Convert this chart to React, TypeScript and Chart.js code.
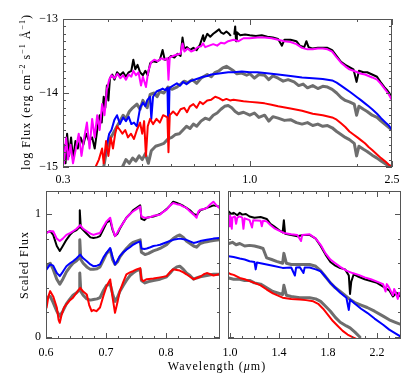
import React, { useEffect, useRef } from 'react';
import { Chart, registerables } from 'chart.js';

Chart.register(...registerables);

const FONT = "'Liberation Serif', 'DejaVu Serif', serif";

type Pair = [number, number | null];

// ---------- top panel: [wavelength (um), log flux] ----------
const topBlack: Pair[] = [[0.302,-14.7],[0.305,-14.95],[0.308,-14.55],[0.312,-14.85],[0.316,-14.6],[0.32,-14.9],[0.325,-14.65],[0.33,-14.75],[0.336,-14.6],[0.342,-14.7],[0.348,-14.55],[0.355,-14.65],[0.362,-14.6],[0.368,-14.75],[0.374,-14.5],[0.38,-14.3],[0.385,-14.4],[0.39,-14.05],[0.394,-14.2],[0.398,-13.9],[0.402,-14.1],[0.406,-13.8],[0.412,-13.75],[0.418,-13.82],[0.425,-13.72],[0.433,-13.76],[0.442,-13.72],[0.45,-13.78],[0.458,-13.72],[0.466,-13.7],[0.472,-13.55],[0.478,-13.68],[0.485,-13.62],[0.493,-13.72],[0.502,-13.76],[0.51,-13.7],[0.518,-13.76],[0.526,-13.6],[0.536,-13.57],[0.548,-13.58],[0.56,-13.55],[0.57,-13.42],[0.578,-13.55],[0.59,-13.54],[0.602,-13.5],[0.615,-13.52],[0.628,-13.47],[0.64,-13.5],[0.648,-13.25],[0.655,-13.4],[0.667,-13.38],[0.68,-13.42],[0.695,-13.39],[0.71,-13.42],[0.725,-13.35],[0.74,-13.22],[0.745,-13.3],[0.76,-13.2],[0.775,-13.24],[0.79,-13.2],[0.805,-13.17],[0.82,-13.14],[0.83,-13.18],[0.845,-13.2],[0.86,-13.17],[0.875,-13.2],[0.882,-13.22],[0.893,null],[0.905,-13.2],[0.91,-13.1],[0.915,-13.3],[0.92,-13.18],[0.94,-13.22],[0.97,-13.21],[1.0,-13.22],[1.04,-13.23],[1.08,-13.22],[1.12,-13.24],[1.16,-13.25],[1.2,-13.27],[1.23,-13.36],[1.25,-13.28],[1.3,-13.28],[1.35,-13.3],[1.38,-13.36],[1.42,-13.38],[1.44,-13.3],[1.46,-13.38],[1.5,-13.4],[1.55,-13.39],[1.6,-13.39],[1.65,-13.39],[1.7,-13.42],[1.75,-13.5],[1.8,-13.58],[1.85,-13.62],[1.9,-13.65],[1.95,-13.68],[1.99,-13.85],[2.02,-13.7],[2.08,-13.72],[2.13,-13.72],[2.2,-13.75],[2.27,-13.78],[2.32,-13.85],[2.38,-13.92],[2.43,-13.97],[2.5,-14.05]];

const topMagenta: Pair[] = [[0.302,-14.95],[0.306,-14.6],[0.31,-14.9],[0.315,-14.7],[0.32,-14.95],[0.326,-14.75],[0.332,-14.55],[0.338,-14.85],[0.344,-14.6],[0.35,-14.4],[0.356,-14.75],[0.362,-14.35],[0.368,-14.6],[0.374,-14.3],[0.38,-14.5],[0.386,-14.15],[0.392,-14.3],[0.398,-13.95],[0.404,-13.82],[0.41,-13.76],[0.418,-13.8],[0.426,-13.74],[0.434,-13.8],[0.442,-13.76],[0.45,-13.82],[0.458,-13.75],[0.466,-13.78],[0.472,-13.7],[0.48,-13.76],[0.488,-13.72],[0.496,-13.9],[0.502,-13.78],[0.512,-13.92],[0.52,-13.7],[0.53,-13.58],[0.54,-13.55],[0.552,-13.57],[0.565,-13.53],[0.575,-13.55],[0.588,-13.53],[0.592,-13.82],[0.597,-13.52],[0.61,-13.5],[0.625,-13.48],[0.64,-13.47],[0.648,-13.33],[0.656,-13.44],[0.67,-13.4],[0.685,-13.44],[0.7,-13.42],[0.715,-13.38],[0.73,-13.37],[0.74,-13.33],[0.75,-13.38],[0.77,-13.36],[0.79,-13.34],[0.81,-13.36],[0.83,-13.32],[0.85,-13.33],[0.87,-13.3],[0.9,-13.28],[0.93,-13.3],[0.96,-13.26],[1.0,-13.26],[1.05,-13.25],[1.1,-13.25],[1.15,-13.26],[1.2,-13.28],[1.25,-13.3],[1.3,-13.31],[1.35,-13.34],[1.4,-13.39],[1.45,-13.41],[1.5,-13.41],[1.55,-13.4],[1.6,-13.4],[1.65,-13.41],[1.7,-13.44],[1.75,-13.52],[1.8,-13.59],[1.85,-13.64],[1.9,-13.68],[1.95,-13.7],[2.0,-13.72],[2.05,-13.74],[2.1,-13.75],[2.15,-13.77],[2.2,-13.79],[2.27,-13.82],[2.33,-13.88],[2.4,-13.96],[2.45,-14.02],[2.5,-14.1]];

const topGrayUpper: Pair[] = [[0.39,-15.0],[0.398,-14.75],[0.406,-14.62],[0.414,-14.55],[0.425,-14.45],[0.433,-14.38],[0.442,-14.3],[0.45,-14.35],[0.46,-14.25],[0.47,-14.2],[0.483,-14.15],[0.493,-14.22],[0.502,-14.1],[0.516,-14.2],[0.526,-14.02],[0.54,-14.0],[0.55,-14.05],[0.56,-13.98],[0.575,-14.0],[0.59,-13.92],[0.605,-13.95],[0.625,-13.92],[0.64,-13.88],[0.655,-13.84],[0.67,-13.86],[0.69,-13.82],[0.71,-13.87],[0.73,-13.8],[0.76,-13.75],[0.78,-13.78],[0.8,-13.72],[0.82,-13.7],[0.84,-13.66],[0.86,-13.64],[0.88,-13.67],[0.9,-13.7],[0.92,-13.74],[0.95,-13.73],[0.98,-13.76],[1.0,-13.74],[1.03,-13.8],[1.06,-13.75],[1.1,-13.76],[1.13,-13.82],[1.16,-13.77],[1.2,-13.8],[1.24,-13.84],[1.28,-13.82],[1.33,-13.85],[1.37,-13.9],[1.41,-13.88],[1.45,-13.93],[1.5,-13.9],[1.55,-13.94],[1.6,-13.91],[1.65,-13.92],[1.7,-13.95],[1.75,-14.0],[1.8,-14.06],[1.85,-14.1],[1.9,-14.12],[1.96,-14.15],[1.99,-14.3],[2.02,-14.18],[2.08,-14.22],[2.13,-14.25],[2.2,-14.3],[2.27,-14.33],[2.33,-14.38],[2.4,-14.43],[2.5,-14.5]];

const topBlue: Pair[] = [[0.392,-14.85],[0.398,-14.7],[0.404,-14.55],[0.41,-14.5],[0.418,-14.36],[0.425,-14.3],[0.433,-14.42],[0.442,-14.33],[0.45,-14.38],[0.458,-14.32],[0.466,-14.42],[0.474,-14.4],[0.483,-14.45],[0.493,-14.2],[0.502,-14.13],[0.51,-14.18],[0.516,-14.1],[0.526,-14.05],[0.53,-14.35],[0.536,-14.05],[0.548,-13.98],[0.56,-13.96],[0.57,-13.94],[0.58,-13.96],[0.588,-13.93],[0.592,-14.6],[0.596,-13.93],[0.61,-13.9],[0.625,-13.87],[0.638,-13.9],[0.65,-13.85],[0.665,-13.88],[0.68,-13.84],[0.7,-13.82],[0.72,-13.8],[0.74,-13.78],[0.76,-13.77],[0.78,-13.75],[0.81,-13.74],[0.84,-13.73],[0.87,-13.72],[0.9,-13.72],[0.95,-13.71],[1.0,-13.72],[1.05,-13.72],[1.1,-13.73],[1.15,-13.74],[1.2,-13.75],[1.3,-13.77],[1.4,-13.79],[1.5,-13.8],[1.6,-13.81],[1.7,-13.83],[1.75,-13.86],[1.8,-13.9],[1.85,-13.94],[1.9,-13.98],[1.95,-14.02],[2.0,-14.06],[2.05,-14.1],[2.1,-14.14],[2.15,-14.18],[2.2,-14.22],[2.27,-14.28],[2.33,-14.34],[2.4,-14.4],[2.45,-14.44],[2.5,-14.5]];

const topGrayLower: Pair[] = [[0.44,-15.0],[0.45,-14.9],[0.46,-14.95],[0.47,-14.88],[0.48,-14.92],[0.49,-14.85],[0.5,-14.9],[0.51,-14.82],[0.52,-14.95],[0.53,-14.78],[0.545,-14.72],[0.56,-14.7],[0.575,-14.68],[0.59,-14.62],[0.605,-14.6],[0.62,-14.56],[0.635,-14.55],[0.65,-14.5],[0.665,-14.45],[0.68,-14.48],[0.695,-14.42],[0.71,-14.45],[0.73,-14.38],[0.75,-14.34],[0.77,-14.36],[0.79,-14.3],[0.81,-14.27],[0.83,-14.22],[0.85,-14.18],[0.87,-14.17],[0.89,-14.2],[0.91,-14.25],[0.93,-14.28],[0.96,-14.26],[1.0,-14.3],[1.03,-14.27],[1.06,-14.33],[1.1,-14.3],[1.13,-14.38],[1.16,-14.32],[1.2,-14.34],[1.25,-14.37],[1.3,-14.36],[1.35,-14.4],[1.4,-14.42],[1.45,-14.4],[1.5,-14.44],[1.55,-14.42],[1.6,-14.45],[1.65,-14.44],[1.7,-14.47],[1.75,-14.52],[1.8,-14.56],[1.85,-14.6],[1.9,-14.63],[1.96,-14.68],[1.99,-14.85],[2.02,-14.72],[2.08,-14.76],[2.13,-14.79],[2.2,-14.84],[2.27,-14.88],[2.33,-14.92],[2.4,-14.96],[2.5,-15.0]];

const topRed: Pair[] = [[0.37,-15.0],[0.378,-14.9],[0.386,-14.75],[0.39,-14.95],[0.396,-14.65],[0.402,-14.85],[0.408,-14.6],[0.414,-14.75],[0.42,-14.55],[0.425,-14.45],[0.433,-14.5],[0.44,-14.55],[0.448,-14.5],[0.456,-14.6],[0.465,-14.55],[0.474,-14.62],[0.483,-14.5],[0.493,-14.4],[0.5,-14.55],[0.506,-14.38],[0.512,-14.85],[0.518,-14.45],[0.526,-14.35],[0.536,-14.42],[0.548,-14.35],[0.56,-14.4],[0.572,-14.3],[0.583,-14.32],[0.588,-14.33],[0.592,-14.8],[0.597,-14.3],[0.61,-14.25],[0.625,-14.3],[0.64,-14.22],[0.655,-14.2],[0.667,-14.26],[0.68,-14.18],[0.695,-14.15],[0.71,-14.2],[0.725,-14.12],[0.74,-14.15],[0.76,-14.1],[0.78,-14.09],[0.8,-14.05],[0.82,-14.07],[0.84,-14.1],[0.86,-14.08],[0.88,-14.1],[0.9,-14.09],[0.93,-14.1],[0.96,-14.11],[1.0,-14.12],[1.05,-14.13],[1.1,-14.14],[1.15,-14.16],[1.2,-14.18],[1.3,-14.21],[1.4,-14.24],[1.5,-14.28],[1.6,-14.3],[1.7,-14.33],[1.75,-14.36],[1.8,-14.41],[1.85,-14.46],[1.9,-14.52],[1.95,-14.56],[2.0,-14.6],[2.05,-14.64],[2.1,-14.68],[2.15,-14.73],[2.2,-14.77],[2.27,-14.83],[2.33,-14.88],[2.4,-14.93],[2.45,-14.97],[2.5,-15.0]];

// ---------- bottom-left panel: [wavelength, scaled flux] ----------
const blBlack: Pair[] = [[0.601,0.85],[0.607,0.86],[0.612,0.83],[0.618,0.74],[0.623,0.70],[0.628,0.74],[0.634,0.79],[0.64,0.83],[0.645,0.855],[0.651,0.87],[0.655,0.89],[0.6563,1.03],[0.658,0.89],[0.662,0.87],[0.668,0.84],[0.674,0.81],[0.679,0.805],[0.685,0.81],[0.69,0.82],[0.696,0.88],[0.701,0.93],[0.707,0.95],[0.711,0.87],[0.715,0.82],[0.719,0.84],[0.723,0.88],[0.729,0.93],[0.734,0.97],[0.74,1.0],[0.745,1.03],[0.751,1.05],[0.757,1.07],[0.759,0.96],[0.764,0.95],[0.768,0.97],[0.774,0.975],[0.779,0.98],[0.785,0.99],[0.79,1.0],[0.796,1.02],[0.801,1.04],[0.807,1.07],[0.812,1.10],[0.818,1.09],[0.823,1.08],[0.829,1.065],[0.834,1.05],[0.84,1.03],[0.846,1.0],[0.851,0.99],[0.857,1.03],[0.863,1.04],[0.868,1.05],[0.874,1.06],[0.879,1.07],[0.889,1.06]];

const blMagenta: Pair[] = [[0.601,0.846],[0.607,0.86],[0.612,0.86],[0.618,0.80],[0.623,0.78],[0.628,0.80],[0.634,0.83],[0.64,0.845],[0.645,0.86],[0.651,0.88],[0.657,0.91],[0.662,0.88],[0.668,0.86],[0.674,0.84],[0.679,0.83],[0.685,0.84],[0.69,0.846],[0.696,0.90],[0.701,0.94],[0.707,0.97],[0.711,0.88],[0.715,0.82],[0.719,0.85],[0.723,0.886],[0.729,0.93],[0.734,0.97],[0.74,1.0],[0.745,1.02],[0.751,1.04],[0.757,1.06],[0.759,0.98],[0.764,0.97],[0.768,0.97],[0.774,0.975],[0.779,0.985],[0.785,0.99],[0.79,0.995],[0.796,1.02],[0.801,1.035],[0.807,1.07],[0.812,1.09],[0.818,1.08],[0.823,1.076],[0.829,1.06],[0.834,1.05],[0.84,1.02],[0.846,0.995],[0.851,0.97],[0.854,1.02],[0.857,1.035],[0.863,1.04],[0.868,1.05],[0.874,1.08],[0.879,1.10],[0.884,1.07],[0.889,1.05]];

const blGrayUpper: Pair[] = [[0.601,0.58],[0.607,0.6],[0.612,0.55],[0.618,0.47],[0.623,0.43],[0.628,0.47],[0.634,0.53],[0.64,0.57],[0.645,0.6],[0.651,0.62],[0.655,0.64],[0.6563,0.79],[0.658,0.63],[0.662,0.6],[0.668,0.57],[0.674,0.55],[0.679,0.55],[0.685,0.555],[0.69,0.57],[0.696,0.63],[0.701,0.68],[0.707,0.71],[0.711,0.63],[0.715,0.59],[0.719,0.61],[0.723,0.65],[0.729,0.69],[0.734,0.72],[0.74,0.75],[0.745,0.77],[0.751,0.78],[0.757,0.79],[0.759,0.69],[0.765,0.67],[0.771,0.68],[0.779,0.70],[0.785,0.71],[0.79,0.72],[0.801,0.75],[0.807,0.78],[0.812,0.80],[0.818,0.82],[0.823,0.83],[0.829,0.81],[0.834,0.78],[0.84,0.76],[0.846,0.74],[0.851,0.73],[0.857,0.76],[0.863,0.77],[0.868,0.775],[0.874,0.78],[0.879,0.785],[0.889,0.79]];

const blBlue: Pair[] = [[0.601,0.55],[0.607,0.59],[0.612,0.58],[0.618,0.52],[0.623,0.495],[0.628,0.53],[0.634,0.576],[0.64,0.60],[0.645,0.616],[0.651,0.64],[0.657,0.67],[0.662,0.64],[0.668,0.616],[0.674,0.59],[0.679,0.576],[0.685,0.58],[0.69,0.59],[0.696,0.65],[0.701,0.684],[0.707,0.724],[0.711,0.65],[0.715,0.59],[0.719,0.62],[0.723,0.657],[0.729,0.69],[0.734,0.71],[0.74,0.73],[0.745,0.75],[0.751,0.765],[0.757,0.778],[0.759,0.72],[0.764,0.715],[0.768,0.72],[0.774,0.73],[0.779,0.74],[0.785,0.745],[0.79,0.75],[0.801,0.77],[0.812,0.79],[0.823,0.80],[0.834,0.79],[0.846,0.765],[0.851,0.77],[0.857,0.78],[0.868,0.79],[0.879,0.80],[0.889,0.805]];

const blGrayLower: Pair[] = [[0.601,0.32],[0.607,0.33],[0.612,0.28],[0.618,0.21],[0.623,0.17],[0.628,0.21],[0.634,0.27],[0.64,0.31],[0.645,0.34],[0.651,0.36],[0.655,0.38],[0.6563,0.52],[0.658,0.37],[0.662,0.34],[0.668,0.31],[0.674,0.30],[0.679,0.305],[0.685,0.31],[0.69,0.32],[0.696,0.38],[0.701,0.42],[0.707,0.43],[0.711,0.35],[0.715,0.29],[0.719,0.32],[0.723,0.37],[0.729,0.42],[0.734,0.46],[0.74,0.50],[0.745,0.52],[0.751,0.54],[0.757,0.55],[0.759,0.46],[0.765,0.44],[0.771,0.45],[0.779,0.46],[0.79,0.47],[0.801,0.49],[0.807,0.52],[0.812,0.55],[0.818,0.57],[0.823,0.576],[0.829,0.55],[0.834,0.52],[0.84,0.50],[0.846,0.47],[0.851,0.48],[0.857,0.49],[0.868,0.50],[0.879,0.51],[0.889,0.51]];

const blRed: Pair[] = [[0.601,0.24],[0.604,0.33],[0.607,0.373],[0.612,0.33],[0.618,0.24],[0.621,0.14],[0.623,0.116],[0.626,0.18],[0.63,0.24],[0.634,0.265],[0.64,0.30],[0.645,0.32],[0.651,0.36],[0.657,0.40],[0.662,0.37],[0.668,0.346],[0.672,0.26],[0.676,0.21],[0.679,0.22],[0.684,0.21],[0.69,0.24],[0.696,0.34],[0.701,0.414],[0.707,0.468],[0.711,0.32],[0.715,0.197],[0.719,0.28],[0.723,0.373],[0.729,0.45],[0.734,0.51],[0.74,0.525],[0.745,0.535],[0.751,0.55],[0.757,0.56],[0.759,0.47],[0.762,0.454],[0.768,0.47],[0.779,0.475],[0.79,0.485],[0.801,0.495],[0.807,0.53],[0.812,0.55],[0.818,0.545],[0.823,0.54],[0.829,0.525],[0.834,0.51],[0.84,0.49],[0.846,0.47],[0.851,0.48],[0.857,0.49],[0.863,0.51],[0.868,0.52],[0.874,0.51],[0.879,0.50],[0.889,0.51]];

// ---------- bottom-right panel: [wavelength, scaled flux] ----------
const brBlack: Pair[] = [[0.99,1.02],[1.01,1.0],[1.03,1.01],[1.06,0.99],[1.08,1.01],[1.1,0.995],[1.13,1.0],[1.16,0.98],[1.2,0.97],[1.25,0.975],[1.3,0.96],[1.33,0.92],[1.36,0.9],[1.4,0.87],[1.43,0.85],[1.44,0.95],[1.45,0.84],[1.5,0.83],[1.55,0.82],[1.6,0.83],[1.65,0.83],[1.7,0.8],[1.74,0.74],[1.78,0.67],[1.82,0.61],[1.86,0.58],[1.9,0.56],[1.94,0.55],[1.97,0.5],[1.98,0.35],[1.99,0.45],[2.01,0.51],[2.05,0.49],[2.1,0.47],[2.15,0.455],[2.2,0.44],[2.25,0.41],[2.3,0.38],[2.33,0.33],[2.36,0.36],[2.4,0.32]];

const brMagenta: Pair[] = [[0.99,0.97],[0.995,0.90],[1.0,0.99],[1.01,0.96],[1.015,0.88],[1.02,0.97],[1.04,0.98],[1.05,0.92],[1.06,0.97],[1.08,0.98],[1.1,0.97],[1.11,0.88],[1.12,0.965],[1.16,0.95],[1.18,0.89],[1.19,0.95],[1.25,0.945],[1.26,0.90],[1.27,0.945],[1.3,0.94],[1.33,0.91],[1.36,0.886],[1.4,0.865],[1.44,0.846],[1.5,0.835],[1.55,0.83],[1.58,0.78],[1.59,0.83],[1.65,0.835],[1.7,0.8],[1.74,0.75],[1.78,0.68],[1.82,0.63],[1.86,0.6],[1.9,0.57],[1.95,0.54],[2.0,0.52],[2.05,0.505],[2.1,0.485],[2.15,0.47],[2.2,0.45],[2.25,0.43],[2.27,0.37],[2.28,0.43],[2.3,0.4],[2.33,0.34],[2.34,0.39],[2.35,0.37],[2.37,0.31],[2.38,0.36],[2.4,0.346]];

const brGrayUpper: Pair[] = [[0.99,0.76],[1.02,0.77],[1.05,0.75],[1.08,0.76],[1.12,0.74],[1.16,0.745],[1.2,0.74],[1.24,0.73],[1.27,0.72],[1.3,0.643],[1.34,0.63],[1.38,0.615],[1.43,0.60],[1.44,0.68],[1.46,0.6],[1.5,0.59],[1.55,0.59],[1.6,0.59],[1.65,0.59],[1.7,0.575],[1.74,0.54],[1.78,0.49],[1.82,0.44],[1.86,0.40],[1.9,0.37],[1.95,0.33],[1.98,0.305],[2.02,0.28],[2.07,0.26],[2.12,0.24],[2.18,0.21],[2.25,0.17],[2.3,0.14],[2.35,0.12],[2.4,0.10]];

const brBlue: Pair[] = [[0.99,0.657],[1.03,0.65],[1.08,0.638],[1.12,0.63],[1.16,0.616],[1.2,0.61],[1.21,0.55],[1.22,0.605],[1.25,0.6],[1.3,0.59],[1.35,0.58],[1.43,0.562],[1.5,0.565],[1.53,0.50],[1.54,0.565],[1.57,0.568],[1.6,0.52],[1.61,0.566],[1.65,0.565],[1.7,0.55],[1.74,0.535],[1.78,0.49],[1.82,0.44],[1.86,0.40],[1.9,0.36],[1.95,0.32],[1.97,0.22],[1.98,0.305],[2.02,0.27],[2.07,0.23],[2.12,0.197],[2.18,0.15],[2.25,0.10],[2.3,0.06],[2.35,0.03],[2.4,0.0]];

const brGrayLower: Pair[] = [[0.99,0.48],[1.03,0.47],[1.08,0.47],[1.12,0.46],[1.16,0.46],[1.2,0.44],[1.25,0.43],[1.3,0.40],[1.35,0.37],[1.43,0.346],[1.44,0.42],[1.46,0.34],[1.5,0.33],[1.57,0.32],[1.65,0.32],[1.7,0.31],[1.74,0.29],[1.78,0.25],[1.82,0.21],[1.86,0.16],[1.9,0.12],[1.95,0.09],[1.98,0.075],[2.02,0.04],[2.06,0.0]];

const brRed: Pair[] = [[0.99,0.52],[1.01,0.51],[1.03,0.505],[1.08,0.48],[1.12,0.47],[1.16,0.454],[1.2,0.44],[1.25,0.42],[1.3,0.386],[1.35,0.355],[1.43,0.32],[1.5,0.31],[1.57,0.305],[1.62,0.30],[1.68,0.29],[1.72,0.27],[1.76,0.23],[1.8,0.18],[1.84,0.13],[1.88,0.09],[1.92,0.05],[1.96,0.02],[2.0,0.0],[2.04,-0.02]];

// ---------- axis ticks ----------
const topXLabels = [0.3, 1.0, 2.5];
const topXMinor = [0.4, 0.5, 0.6, 0.7, 0.8, 0.9, 2.0];
const topYLabels = [-15, -14, -13];
const topYMinor = [-14.9,-14.8,-14.7,-14.6,-14.5,-14.4,-14.3,-14.2,-14.1,-13.9,-13.8,-13.7,-13.6,-13.5,-13.4,-13.3,-13.2,-13.1];
const blXLabels = [0.6, 0.7, 0.8];
const blXMinor = [0.62,0.64,0.66,0.68,0.72,0.74,0.76,0.78,0.82,0.84,0.86,0.88];
const brXLabels = [1.0, 1.4, 1.8, 2.2];
const brXMinor = [1.1,1.2,1.3,1.5,1.6,1.7,1.9,2.0,2.1,2.3];
const botYLabels = [0, 1];
const botYMinor = [0.2, 0.4, 0.6, 0.8];

const GRAY = '#6e6e6e';
const BLACK = '#000000';
const MAGENTA = '#ff00ff';
const BLUE = '#0000ff';
const RED = '#ff0000';

const frameTicks = {
  id: 'frameTicks',
  afterDatasetsDraw(chart: any, _args: any, opts: any) {
    const { ctx, chartArea: a, scales } = chart;
    const xs = scales.x, ys = scales.y;
    ctx.save();
    ctx.strokeStyle = '#555';
    ctx.lineWidth = 1;
    ctx.strokeRect(a.left + 0.5, a.top + 0.5, a.right - a.left - 1, a.bottom - a.top - 1);
    const vx = (vals: number[], len: number) => {
      vals.forEach((v) => {
        const p = Math.round(xs.getPixelForValue(v)) + 0.5;
        ctx.beginPath();
        ctx.moveTo(p, a.bottom); ctx.lineTo(p, a.bottom - len);
        ctx.moveTo(p, a.top); ctx.lineTo(p, a.top + len);
        ctx.stroke();
      });
    };
    const vy = (vals: number[], len: number) => {
      vals.forEach((v) => {
        const p = Math.round(ys.getPixelForValue(v)) + 0.5;
        ctx.beginPath();
        ctx.moveTo(a.left, p); ctx.lineTo(a.left + len, p);
        ctx.moveTo(a.right, p); ctx.lineTo(a.right - len, p);
        ctx.stroke();
      });
    };
    vx(opts.xMajor || [], 6); vx(opts.xMinor || [], 3);
    vy(opts.yMajor || [], 6); vy(opts.yMinor || [], 3);
    ctx.restore();
  },
};
Chart.register(frameTicks);

const toXY = (a: Pair[]) => a.map(([x, y]) => ({ x, y }));
const ds = (data: Pair[], color: string, width: number, order: number) => ({
  data: toXY(data), borderColor: color, backgroundColor: color, borderWidth: width,
  pointRadius: 0, tension: 0, fill: false, order, spanGaps: false,
  borderJoinStyle: 'round', borderCapStyle: 'round',
});

const tickFont = { family: FONT, size: 12 };

function config(p: any): any {
  const yScale = p.yShow
    ? {
        type: 'linear', min: p.yMin, max: p.yMax,
        grid: { display: false, drawTicks: false }, border: { display: false },
        afterFit: (s: any) => { s.width = p.yWidth; },
        afterBuildTicks: (s: any) => { s.ticks = p.yLabels.map((v: number) => ({ value: v })); },
        ticks: { padding: 5, color: '#000', font: tickFont, callback: p.yFmt },
      }
    : { type: 'linear', min: p.yMin, max: p.yMax, display: false };
  return {
    type: 'line',
    data: { datasets: p.datasets },
    options: {
      responsive: false, animation: false, devicePixelRatio: 1, events: [],
      layout: { padding: p.padding },
      plugins: {
        legend: { display: false }, tooltip: { enabled: false },
        frameTicks: { xMajor: p.xLabels, xMinor: p.xMinor, yMajor: p.yLabels, yMinor: p.yMinor },
      },
      scales: {
        x: {
          type: p.xType, min: p.xMin, max: p.xMax,
          grid: { display: false, drawTicks: false }, border: { display: false },
          afterFit: (s: any) => { s.height = p.xHeight; },
          afterBuildTicks: (s: any) => { s.ticks = p.xLabels.map((v: number) => ({ value: v })); },
          ticks: { autoSkip: false, maxRotation: 0, minRotation: 0, padding: p.xPad, color: '#000', font: tickFont,
            callback: (v: any) => Number(v).toFixed(1) },
        },
        y: yScale,
      },
    },
  };
}

export default function App() {
  const topRef = useRef<HTMLCanvasElement>(null);
  const blRef = useRef<HTMLCanvasElement>(null);
  const brRef = useRef<HTMLCanvasElement>(null);

  useEffect(() => {
    const charts: Chart[] = [];
    charts.push(new Chart(topRef.current as HTMLCanvasElement, config({
      datasets: [
        ds(topGrayUpper, GRAY, 3, 6), ds(topGrayLower, GRAY, 3, 6),
        ds(topBlack, BLACK, 2, 5), ds(topMagenta, MAGENTA, 2, 4),
        ds(topBlue, BLUE, 2, 3), ds(topRed, RED, 2, 2),
      ],
      xType: 'logarithmic', xMin: 0.3, xMax: 2.5, yMin: -15, yMax: -13,
      xLabels: topXLabels, xMinor: topXMinor, yLabels: topYLabels, yMinor: topYMinor,
      yShow: true, yWidth: 63, xHeight: 24, xPad: 6,
      yFmt: (v: any) => '\u2212' + Math.abs(Number(v)),
      padding: { left: 0, top: 19, right: 27, bottom: 200 },
    })));
    charts.push(new Chart(blRef.current as HTMLCanvasElement, config({
      datasets: [
        ds(blGrayUpper, GRAY, 3, 6), ds(blGrayLower, GRAY, 3, 6),
        ds(blBlack, BLACK, 2, 5), ds(blMagenta, MAGENTA, 2, 4),
        ds(blBlue, BLUE, 2, 3), ds(blRed, RED, 2, 2),
      ],
      xType: 'linear', xMin: 0.6, xMax: 0.89, yMin: -0.016, yMax: 1.187,
      xLabels: blXLabels, xMinor: blXMinor, yLabels: botYLabels, yMinor: botYMinor,
      yShow: true, yWidth: 46, xHeight: 20, xPad: 7,
      yFmt: (v: any) => String(v),
      padding: { left: 0, top: 191, right: 199, bottom: 32 },
    })));
    charts.push(new Chart(brRef.current as HTMLCanvasElement, config({
      datasets: [
        ds(brGrayUpper, GRAY, 3, 6), ds(brGrayLower, GRAY, 3, 6),
        ds(brBlack, BLACK, 2, 5), ds(brMagenta, MAGENTA, 2, 4),
        ds(brBlue, BLUE, 2, 3), ds(brRed, RED, 2, 2),
      ],
      xType: 'linear', xMin: 0.984, xMax: 2.396, yMin: -0.016, yMax: 1.187,
      xLabels: brXLabels, xMinor: brXMinor, yLabels: botYLabels, yMinor: botYMinor,
      yShow: false, xHeight: 20, xPad: 7,
      padding: { left: 228, top: 191, right: 18, bottom: 32 },
    })));
    return () => charts.forEach((c) => c.destroy());
  }, []);

  const canvasStyle: React.CSSProperties = { position: 'absolute', left: 0, top: 0, display: 'block' };
  const title: React.CSSProperties = {
    position: 'absolute', whiteSpace: 'nowrap', font: `12px ${FONT}`, letterSpacing: '1px', color: '#000', lineHeight: '14px',
  };
  const sup: React.CSSProperties = { fontSize: '8px', verticalAlign: '5px', lineHeight: 0 };

  return (
    <div style={{ position: 'absolute', left: 0, top: 0, width: 419, height: 391, background: '#fff', overflow: 'hidden' }}>
      <canvas ref={topRef} width={419} height={391} style={canvasStyle} />
      <canvas ref={blRef} width={419} height={391} style={canvasStyle} />
      <canvas ref={brRef} width={419} height={391} style={canvasStyle} />
      <div style={{ ...title, left: 26, top: 92, transform: 'translate(-50%,-50%) rotate(-90deg)' }}>
        log Flux (erg cm<span style={sup}>−2</span> s<span style={sup}>−1</span> Å<span style={sup}>−1</span>)
      </div>
      <div style={{ ...title, left: 24, top: 265, transform: 'translate(-50%,-50%) rotate(-90deg)' }}>
        Scaled Flux
      </div>
      <div style={{ ...title, left: 217, top: 366, transform: 'translate(-50%,-50%)' }}>
        Wavelength (<i>μ</i>m)
      </div>
    </div>
  );
}
